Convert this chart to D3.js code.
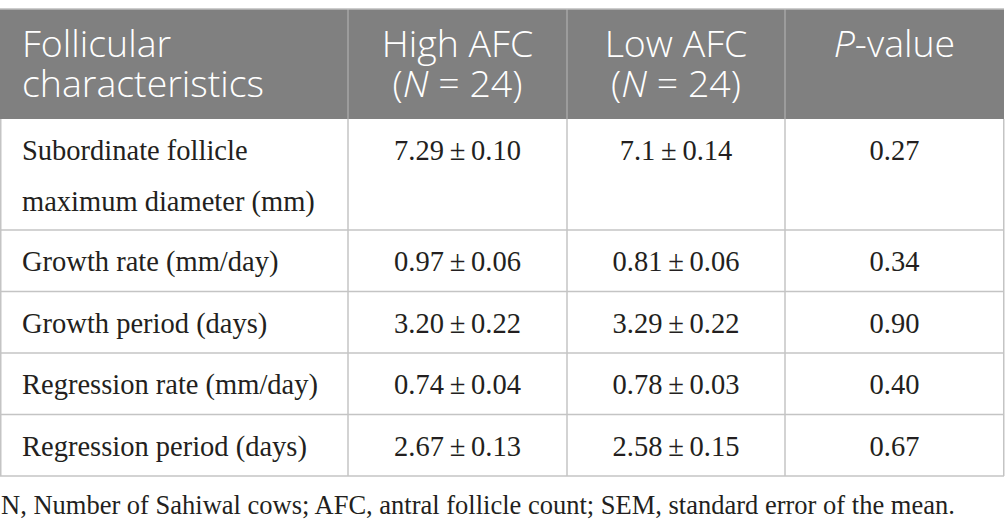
<html>
<script src="https://cdnjs.cloudflare.com/ajax/libs/d3/7.8.5/d3.min.js"></script>
<style>
  body { margin: 0; background: #fff; }
</style>
<body>
<div id="chart"></div>

<script>
// table content
var characteristics = [
  ["Subordinate follicle", "maximum diameter (mm)"],
  ["Growth rate (mm/day)"],
  ["Growth period (days)"],
  ["Regression rate (mm/day)"],
  ["Regression period (days)"]
];
var highMean = ["7.29", "0.97", "3.20", "0.74", "2.67"];
var highSem  = ["0.10", "0.06", "0.22", "0.04", "0.13"];
var lowMean  = ["7.1", "0.81", "3.29", "0.78", "2.58"];
var lowSem   = ["0.14", "0.06", "0.22", "0.03", "0.15"];
var pValues  = ["0.27", "0.34", "0.90", "0.40", "0.67"];
var footnote = "N, Number of Sahiwal cows; AFC, antral follicle count; SEM, standard error of the mean.";

var width = 1005, height = 532;
var top0 = 9, headH = 110;
var lineH = 49.5, pad = 12;

var svg = d3.select("#chart").append("svg")
  .attr("width", width)
  .attr("height", height);

// column edges
var colEdges = [0, 348, 567, 785, 1004];
var x = d3.scaleOrdinal().domain([0, 1, 2, 3]).range(colEdges.slice(0, 4));
function colW(i) { return colEdges[i + 1] - colEdges[i]; }
function colMid(i) { return x(i) + colW(i) / 2; }

// row tops from line counts
var rowH = characteristics.map(function(c) { return pad + c.length * lineH; });
var rowTops = [top0 + headH];
rowH.forEach(function(h, i) { rowTops.push(rowTops[i] + h); });
var y = d3.scaleOrdinal().domain(d3.range(rowTops.length)).range(rowTops);
var tableBottom = rowTops[rowTops.length - 1];

// header background
svg.append("rect")
  .attr("x", 0).attr("y", top0)
  .attr("width", colEdges[4]).attr("height", headH)
  .attr("fill", "#808080");

// header text, two lines per cell in one text element
var headFont = "'Open Sans', sans-serif";
var head = svg.append("g")
  .attr("font-family", headFont)
  .attr("font-size", 37.5)
  .attr("font-weight", 300)
  .attr("fill", "#fff");

var h0 = head.append("text").attr("x", 22).attr("y", top0 + 48);
h0.append("tspan").attr("x", 22).text("Follicular");
h0.append("tspan").attr("x", 22).attr("dy", 40).text("characteristics");

["High AFC", "Low AFC"].forEach(function(t, i) {
  var cx = colMid(i + 1);
  var ht = head.append("text").attr("x", cx).attr("y", top0 + 48)
    .attr("text-anchor", "middle");
  ht.append("tspan").attr("x", cx).text(t);
  ht.append("tspan").attr("x", cx).attr("dy", 40).text("(")
    .append("tspan").attr("font-style", "italic").text("N");
  ht.append("tspan").text(" = 24)");
});

var pv = head.append("text").attr("x", colMid(3)).attr("y", top0 + 48)
  .attr("text-anchor", "middle");
pv.append("tspan").attr("font-style", "italic").text("P");
pv.append("tspan").text("-value");

// header separators
svg.selectAll(".hsep")
  .data([1, 2, 3])
  .enter().append("line")
  .attr("x1", function(d) { return x(d); })
  .attr("x2", function(d) { return x(d); })
  .attr("y1", top0).attr("y2", top0 + headH)
  .attr("stroke", "#a6a6a6").attr("stroke-width", 1.5);

// body grid
var grid = svg.append("g").attr("stroke", "#c4c4c4").attr("stroke-width", 1.5);
rowTops.slice(1).forEach(function(t) {
  grid.append("line").attr("x1", 0).attr("x2", colEdges[4]).attr("y1", t).attr("y2", t);
});
colEdges.forEach(function(c, i) {
  var xx = i === 0 ? 0.75 : (i === 4 ? c - 0.25 : c);
  grid.append("line").attr("x1", xx).attr("x2", xx)
    .attr("y1", top0 + headH).attr("y2", tableBottom);
});
// top border
svg.append("line").attr("x1", 0).attr("x2", colEdges[4])
  .attr("y1", top0).attr("y2", top0)
  .attr("stroke", "#bdbdbd").attr("stroke-width", 1.5);

// body text
var bodyFont = "'Liberation Serif', 'Times New Roman', serif";
var body = svg.append("g")
  .attr("font-family", bodyFont)
  .attr("font-size", 28.5)
  .attr("fill", "#231f20");

characteristics.forEach(function(lines, r) {
  lines.forEach(function(l, k) {
    body.append("text")
      .attr("x", 22)
      .attr("y", y(r) + 41 + k * 51)
      .text(l);
  });
  [highMean[r] + "\u2009\u00b1\u2009" + highSem[r],
   lowMean[r] + "\u2009\u00b1\u2009" + lowSem[r],
   pValues[r]].forEach(function(v, c) {
    body.append("text")
      .attr("x", colMid(c + 1))
      .attr("y", y(r) + 41)
      .attr("text-anchor", "middle")
      .text(v);
  });
});

// footnote
svg.append("text")
  .attr("x", 1)
  .attr("y", tableBottom + 38)
  .attr("font-family", bodyFont)
  .attr("font-size", 26.5)
  .attr("fill", "#231f20")
  .text(footnote);
</script>
</body>
</html>
